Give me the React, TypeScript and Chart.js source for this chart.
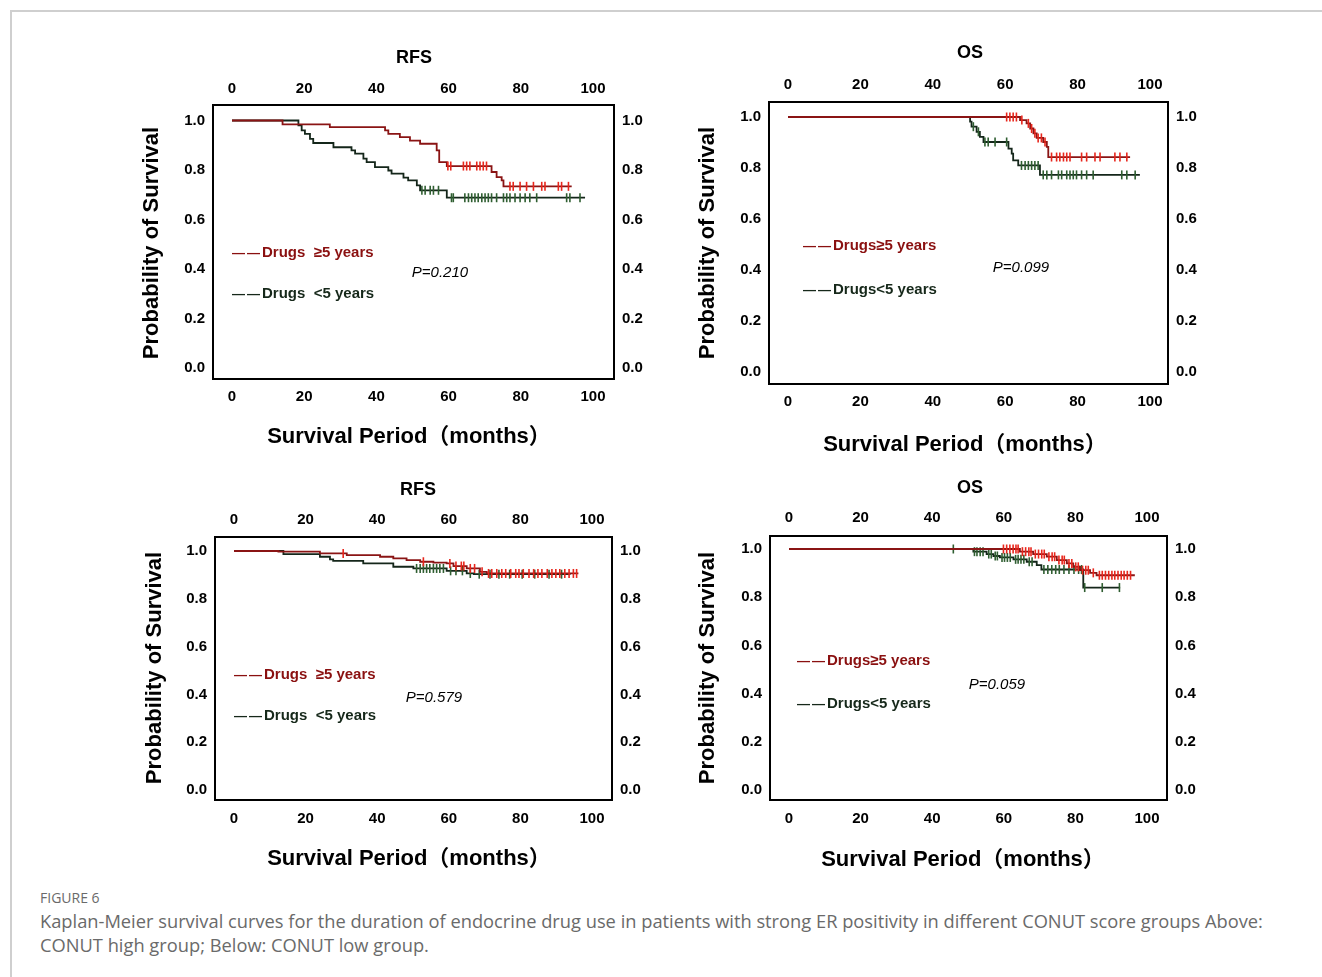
import React, { useEffect, useRef } from "react";
import { Chart, registerables } from "chart.js";
Chart.register(...registerables);

// ---------- shared axis ticks ----------
const xTickValues = [0, 20, 40, 60, 80, 100];
const yTickValues = [0, 0.2, 0.4, 0.6, 0.8, 1.0];

// ---------- Panel A: CONUT high, RFS ----------
const aHighT = [0, 14.0, 27.1, 42.4, 43.3, 46.5, 49.3, 52.1, 56.7, 57.4, 59.5, 71.9, 73.3, 74.7, 75.2, 94.1];
const aHighS = [1.0, 0.984, 0.973, 0.96, 0.946, 0.933, 0.919, 0.906, 0.879, 0.832, 0.816, 0.792, 0.771, 0.758, 0.734, 0.734];
const aHighCens = [59.8, 60.6, 64.1, 65.0, 65.9, 67.8, 68.7, 69.6, 70.5, 77.0, 77.9, 79.8, 81.6, 83.5, 85.8, 86.7, 90.4, 91.3, 93.2];
const aLowT = [0, 18.4, 19.3, 20.2, 21.6, 22.5, 28.1, 33.1, 34.1, 36.4, 37.3, 39.6, 43.3, 44.2, 47.5, 48.8, 51.2, 52.1, 59.5, 97.8];
const aLowS = [1.0, 0.98, 0.96, 0.946, 0.926, 0.909, 0.892, 0.879, 0.866, 0.846, 0.832, 0.812, 0.798, 0.785, 0.769, 0.758, 0.738, 0.718, 0.688, 0.688];
const aLowCens = [52.6, 53.5, 54.9, 55.8, 57.2, 60.8, 61.3, 64.5, 65.5, 66.4, 67.3, 68.2, 69.2, 70.1, 71.0, 71.9, 73.3, 75.2, 76.1, 77.0, 78.4, 79.8, 81.2, 82.5, 84.4, 92.7, 93.6, 96.4];

// ---------- Panel B: CONUT high, OS ----------
const bHighT = [0, 64.1, 65.9, 66.9, 67.8, 68.7, 70.5, 71.5, 71.9, 94.5];
const bHighS = [1.0, 0.988, 0.975, 0.955, 0.936, 0.918, 0.902, 0.883, 0.843, 0.843];
const bHighCens = [60.4, 61.3, 62.2, 63.1, 64.6, 66.4, 67.3, 68.2, 69.1, 70.0, 71.0, 72.8, 74.2, 75.1, 76.1, 77.0, 77.9, 81.1, 82.5, 84.8, 86.2, 90.3, 91.7, 93.6];
const bLowT = [0, 50.3, 50.7, 52.1, 53.0, 54.0, 60.9, 61.8, 62.2, 63.6, 69.6, 97.2];
const bLowS = [1.0, 0.982, 0.962, 0.942, 0.922, 0.902, 0.876, 0.856, 0.83, 0.81, 0.773, 0.773];
const bLowCens = [51.2, 52.6, 54.4, 55.3, 57.2, 60.4, 64.5, 65.5, 66.4, 67.3, 68.2, 69.1, 70.5, 71.5, 72.8, 74.7, 75.6, 77.0, 77.9, 78.8, 79.7, 81.1, 82.5, 84.3, 92.2, 93.6, 95.9];

// ---------- Panel C: CONUT low, RFS ----------
const cHighT = [0, 12.4, 24.0, 31.5, 40.8, 44.5, 48.2, 52.0, 55.7, 59.4, 61.3, 65.0, 68.7, 70.6, 96.2];
const cHighS = [1.0, 0.997, 0.99, 0.983, 0.976, 0.969, 0.962, 0.955, 0.951, 0.948, 0.937, 0.927, 0.913, 0.906, 0.906];
const cHighCens = [30.5, 52.9, 60.3, 62.0, 63.5, 64.2, 66.0, 67.2, 69.3, 71.1, 72.0, 73.4, 74.8, 75.9, 77.3, 78.7, 79.6, 80.8, 82.4, 83.7, 84.9, 86.0, 87.5, 88.8, 89.9, 91.0, 92.4, 93.6, 94.8, 95.7];
const cLowT = [0, 13.8, 24.0, 26.8, 27.7, 36.1, 44.5, 50.1, 59.4, 65.0, 67.0, 94.0];
const cLowS = [1.0, 0.987, 0.976, 0.965, 0.959, 0.948, 0.934, 0.927, 0.917, 0.906, 0.903, 0.903];
const cLowCens = [51.0, 52.0, 52.9, 53.8, 54.7, 55.7, 56.6, 57.5, 58.5, 60.5, 62.0, 63.8, 66.0, 68.5, 71.5, 74.0, 77.0, 80.5, 84.0, 88.0, 91.5];

// ---------- Panel D: CONUT low, OS ----------
const dHighT = [0, 64.5, 68.2, 72.0, 74.8, 77.6, 79.4, 81.3, 84.1, 85.9, 96.6];
const dHighS = [1.0, 0.989, 0.979, 0.968, 0.954, 0.94, 0.926, 0.912, 0.901, 0.891, 0.891];
const dHighCens = [59.9, 60.8, 61.7, 62.6, 63.4, 64.0, 65.2, 66.1, 67.0, 67.6, 68.8, 69.7, 70.6, 71.3, 72.6, 73.5, 74.2, 75.4, 76.3, 76.9, 78.2, 79.0, 80.1, 80.8, 82.0, 82.9, 83.6, 85.0, 86.7, 87.5, 88.4, 89.3, 90.2, 91.0, 91.9, 92.8, 93.6, 94.5, 95.4];
const dLowT = [0, 51.5, 55.2, 57.1, 58.9, 62.7, 66.4, 69.2, 70.5, 82.2, 92.5];
const dLowS = [1.0, 0.989, 0.979, 0.971, 0.965, 0.957, 0.947, 0.933, 0.915, 0.84, 0.84];
const dLowCens = [45.9, 51.8, 52.5, 53.4, 54.2, 55.8, 56.5, 57.6, 58.2, 59.5, 60.2, 61.0, 61.8, 63.3, 64.0, 64.8, 65.6, 67.1, 67.9, 71.2, 72.3, 73.4, 74.5, 75.5, 76.8, 78.2, 79.6, 80.9, 81.7, 82.6, 87.5, 92.3];

// ---------- text ----------
const titles = ["RFS", "OS", "RFS", "OS"];
const pValues = ["P=0.210", "P=0.099", "P=0.579", "P=0.059"];
const legendDash = "—";
const legendHigh = ["Drugs  ≥5 years", "Drugs≥5 years", "Drugs  ≥5 years", "Drugs≥5 years"];
const legendLow = ["Drugs  <5 years", "Drugs<5 years", "Drugs  <5 years", "Drugs<5 years"];
const xTitle = "Survival Period（months）";
const yTitle = "Probability of Survival";
const figLabel = "FIGURE 6";
const captionText =
  "Kaplan-Meier survival curves for the duration of endocrine drug use in patients with strong ER positivity in different CONUT score groups Above: CONUT high group; Below: CONUT low group.";

// ---------- colours ----------
const HIGH_LINE = "#8a1414";
const HIGH_CENS = "#e8261c";
const LOW_LINE = "#14261a";
const LOW_CENS = "#2f5e31";
const HIGH_TEXT = "#8a1010";
const LOW_TEXT = "#16281a";

const TICK_FONT = 'bold 15px "Liberation Sans", Arial, sans-serif';
const DASH_FONT = 'bold 13px "Liberation Sans", Arial, sans-serif';
const AXIS_TITLE_FONT = 'bold 22px "Liberation Sans", Arial, "Noto Sans CJK SC", sans-serif';

function survivalAt(ts: number[], ss: number[], t: number): number {
  let s = ss[0];
  for (let i = 0; i < ts.length; i++) {
    if (ts[i] <= t) s = ss[i];
  }
  return s;
}

type Layout = {
  canvas: { x: number; y: number; w: number; h: number };
  box: { l: number; t: number; r: number; b: number };
  x0: number;
  x100: number;
  y1: number;
  y0: number;
  title: [number, number];
  xTitlePos: [number, number];
  yTitlePos: [number, number];
  legHigh: [number, number];
  legLow: [number, number];
  pPos: [number, number];
  padTop: number;
  padBottom: number;
};

const layouts: Layout[] = [
  {
    canvas: { x: 110, y: 30, w: 580, h: 435 },
    box: { l: 213, t: 105, r: 614, b: 379 },
    x0: 232, x100: 593, y1: 120.5, y0: 368,
    title: [414, 58], xTitlePos: [409, 437], yTitlePos: [152, 243],
    legHigh: [232, 253], legLow: [232, 294], pPos: [440, 273],
    padTop: 7, padBottom: 9,
  },
  {
    canvas: { x: 690, y: 30, w: 550, h: 435 },
    box: { l: 769, t: 102, r: 1168, b: 384 },
    x0: 788, x100: 1150, y1: 117, y0: 372,
    title: [970, 53], xTitlePos: [965, 445], yTitlePos: [708, 243],
    legHigh: [803, 246], legLow: [803, 290], pPos: [1021, 268],
    padTop: 8, padBottom: 9,
  },
  {
    canvas: { x: 110, y: 465, w: 580, h: 415 },
    box: { l: 215, t: 537, r: 612, b: 800 },
    x0: 234, x100: 592, y1: 551, y0: 790,
    title: [418, 490], xTitlePos: [409, 859], yTitlePos: [155, 668],
    legHigh: [234, 675], legLow: [234, 716], pPos: [434, 698],
    padTop: 8, padBottom: 10,
  },
  {
    canvas: { x: 690, y: 465, w: 550, h: 415 },
    box: { l: 770, t: 536, r: 1167, b: 800 },
    x0: 789, x100: 1147, y1: 549, y0: 790,
    title: [970, 488], xTitlePos: [963, 860], yTitlePos: [708, 668],
    legHigh: [797, 661], legLow: [797, 704], pPos: [997, 685],
    padTop: 9, padBottom: 10,
  },
];

const curveSets = [
  { hT: aHighT, hS: aHighS, hC: aHighCens, lT: aLowT, lS: aLowS, lC: aLowCens },
  { hT: bHighT, hS: bHighS, hC: bHighCens, lT: bLowT, lS: bLowS, lC: bLowCens },
  { hT: cHighT, hS: cHighS, hC: cHighCens, lT: cLowT, lS: cLowS, lC: cLowCens },
  { hT: dHighT, hS: dHighS, hC: dHighCens, lT: dLowT, lS: dLowS, lC: dLowCens },
];

function Panel({ idx }: { idx: number }) {
  const ref = useRef<HTMLCanvasElement | null>(null);
  const L = layouts[idx];
  useEffect(() => {
    if (!ref.current) return;
    const c = curveSets[idx];
    const pxPerX = (L.x100 - L.x0) / 100;
    const pxPerY = L.y0 - L.y1;
    const xMin = -(L.x0 - L.box.l) / pxPerX;
    const xMax = 100 + (L.box.r - L.x100) / pxPerX;
    const yMax = 1 + (L.y1 - L.box.t) / pxPerY;
    const yMin = -(L.box.b - L.y0) / pxPerY;
    const leftW = L.box.l - L.canvas.x;
    const rightW = L.canvas.x + L.canvas.w - L.box.r;
    const topH = L.box.t - L.canvas.y;
    const bottomH = L.canvas.y + L.canvas.h - L.box.b;

    const border = { display: true, color: "#000", width: 2 };
    const grid = { display: false, drawTicks: false };
    const tickFont = { family: '"Liberation Sans", Arial, sans-serif', size: 15, weight: "bold" as const };
    const xAxis = (pos: "top" | "bottom") => ({
      type: "linear" as const,
      position: pos,
      min: xMin,
      max: xMax,
      grid,
      border,
      afterBuildTicks: (a: any) => {
        a.ticks = xTickValues.map((v) => ({ value: v }));
      },
      afterFit: (s: any) => {
        s.height = pos === "top" ? topH : bottomH;
      },
      ticks: {
        font: tickFont,
        color: "#000",
        padding: pos === "top" ? L.padTop : L.padBottom,
        maxRotation: 0,
        autoSkip: false,
        callback: (v: any) => String(v),
      },
    });
    const yAxis = (pos: "left" | "right") => ({
      type: "linear" as const,
      position: pos,
      min: yMin,
      max: yMax,
      grid,
      border,
      afterBuildTicks: (a: any) => {
        a.ticks = yTickValues.map((v) => ({ value: v }));
      },
      afterFit: (s: any) => {
        s.width = pos === "left" ? leftW : rightW;
      },
      ticks: {
        font: tickFont,
        color: "#000",
        padding: 8,
        autoSkip: false,
        callback: (v: any) => Number(v).toFixed(1),
      },
    });

    const ox = L.canvas.x;
    const oy = L.canvas.y;
    const textPlugin = {
      id: "panelText" + idx,
      afterDraw(chart: any) {
        const ctx = chart.ctx as CanvasRenderingContext2D;
        const put = (text: string, x: number, y: number, font: string, color: string, align: CanvasTextAlign, rot = 0) => {
          ctx.save();
          ctx.font = font;
          ctx.fillStyle = color;
          ctx.textAlign = align;
          ctx.textBaseline = "middle";
          ctx.translate(x - ox, y - oy);
          if (rot) ctx.rotate(rot);
          ctx.fillText(text, 0, 0);
          ctx.restore();
        };
        const legend = (text: string, x: number, y: number, color: string) => {
          put(legendDash, x, y, DASH_FONT, color, "left");
          put(legendDash, x + 15, y, DASH_FONT, color, "left");
          put(text, x + 30, y, TICK_FONT, color, "left");
        };
        put(titles[idx], L.title[0], L.title[1], 'bold 18px "Liberation Sans", Arial, sans-serif', "#000", "center");
        put(xTitle, L.xTitlePos[0], L.xTitlePos[1], AXIS_TITLE_FONT, "#000", "center");
        put(yTitle, L.yTitlePos[0], L.yTitlePos[1], AXIS_TITLE_FONT, "#000", "center", -Math.PI / 2);
        legend(legendHigh[idx], L.legHigh[0], L.legHigh[1], HIGH_TEXT);
        legend(legendLow[idx], L.legLow[0], L.legLow[1], LOW_TEXT);
        put(pValues[idx], L.pPos[0], L.pPos[1], 'italic 15px "Liberation Sans", Arial, sans-serif', "#000", "center");
      },
    };

    const pts = (ts: number[], ss: number[]) => ts.map((t, i) => ({ x: t, y: ss[i] }));
    const cens = (ts: number[], ss: number[], cs: number[]) => cs.map((t) => ({ x: t, y: survivalAt(ts, ss, t) }));

    const censorStyle = {
      showLine: false,
      pointStyle: "line" as const,
      pointRotation: 90,
      pointRadius: 4.5,
      pointBorderWidth: 1.6,
    };

    const chart = new Chart(ref.current, {
      type: "line",
      data: {
        datasets: [
          { data: cens(c.hT, c.hS, c.hC), borderColor: HIGH_CENS, backgroundColor: HIGH_CENS, ...censorStyle },
          { data: pts(c.hT, c.hS), borderColor: HIGH_LINE, borderWidth: 1.8, stepped: true, pointRadius: 0, fill: false },
          { data: cens(c.lT, c.lS, c.lC), borderColor: LOW_CENS, backgroundColor: LOW_CENS, ...censorStyle },
          { data: pts(c.lT, c.lS), borderColor: LOW_LINE, borderWidth: 1.8, stepped: true, pointRadius: 0, fill: false },
        ],
      },
      options: {
        animation: false,
        responsive: false,
        devicePixelRatio: 1,
        layout: { padding: 0 },
        plugins: { legend: { display: false }, tooltip: { enabled: false }, title: { display: false } },
        scales: {
          x: xAxis("bottom"),
          xTop: xAxis("top"),
          y: yAxis("left"),
          yRight: yAxis("right"),
        } as any,
      },
      plugins: [textPlugin],
    });
    return () => chart.destroy();
  }, [idx]);

  return (
    <canvas
      ref={ref}
      width={L.canvas.w}
      height={L.canvas.h}
      style={{ position: "absolute", left: L.canvas.x, top: L.canvas.y, width: L.canvas.w, height: L.canvas.h }}
    />
  );
}

export default function App() {
  return (
    <div style={{ position: "absolute", left: 0, top: 0, width: 1322, height: 977, background: "#fff", overflow: "hidden" }}>
      <div
        style={{
          position: "absolute",
          left: 10,
          top: 10,
          width: 1330,
          height: 980,
          borderTop: "2px solid #cfcfcf",
          borderLeft: "2px solid #cfcfcf",
        }}
      />
      {[0, 1, 2, 3].map((i) => (
        <Panel key={i} idx={i} />
      ))}
      <div
        style={{
          position: "absolute",
          left: 40,
          top: 889,
          fontFamily: '"Open Sans", "Noto Sans", sans-serif',
          fontSize: 14,
          color: "#6a6a6a",
          lineHeight: "18px",
        }}
      >
        {figLabel}
      </div>
      <div
        style={{
          position: "absolute",
          left: 40,
          top: 909,
          width: 1240,
          fontFamily: '"Open Sans", "Noto Sans", sans-serif',
          fontSize: 18.3,
          color: "#6a6a6a",
          lineHeight: "24px",
        }}
      >
        {captionText}
      </div>
    </div>
  );
}
